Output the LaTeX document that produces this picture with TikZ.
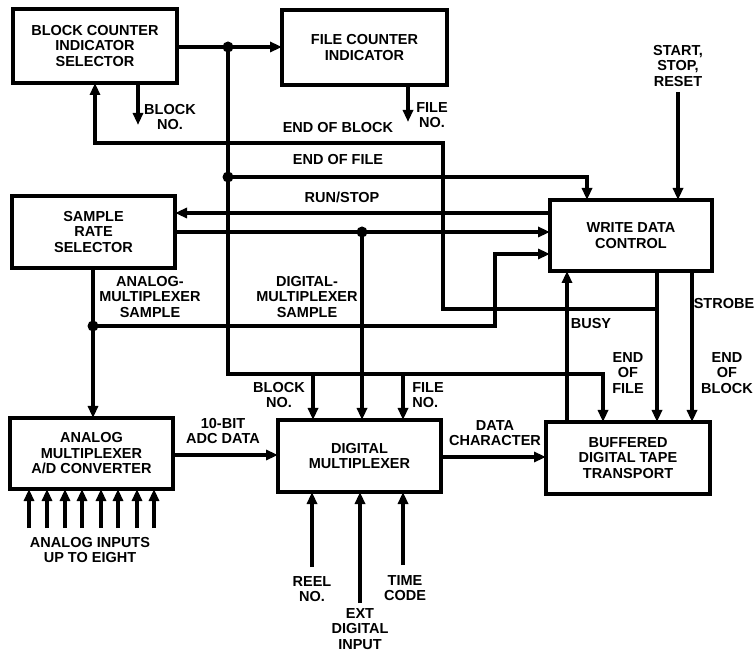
\documentclass[tikz,border=0pt]{standalone}
\usepackage{fontspec}
\setmainfont{Liberation Sans}
\usetikzlibrary{arrows.meta}
\begin{document}
\begin{tikzpicture}[x=1pt,y=-1pt,
  box/.style={draw, line width=3.5pt, inner sep=2pt, outer sep=0pt, align=center,
    font=\fontsize{14.5}{15.5}\selectfont\bfseries},
  lbl/.style={inner sep=0pt, align=center, font=\fontsize{14.5}{15.5}\selectfont\bfseries},
  wire/.style={line width=4pt},
  arr/.style={line width=4pt, -{Triangle[length=12pt,width=10pt]}},
  dot/.style={circle, fill, inner sep=0pt, minimum size=11pt}]
\useasboundingbox (0,0) rectangle (756,655);

% boxes
\node[box, minimum width=164pt, minimum height=74pt] (bcs) at (95,46) {BLOCK COUNTER\\INDICATOR\\SELECTOR};
\node[box, minimum width=165pt, minimum height=75pt] (fci) at (364.5,47.5) {FILE COUNTER\\INDICATOR};
\node[box, minimum width=162pt, minimum height=71pt] (wdc) at (631,235.5) {WRITE DATA\\CONTROL};
\node[box, minimum width=163pt, minimum height=72pt] (srs) at (93.5,232) {SAMPLE\\RATE\\SELECTOR};
\node[box, minimum width=163pt, minimum height=71pt] (amx) at (91.5,453.5) {ANALOG\\MULTIPLEXER\\A/D CONVERTER};
\node[box, minimum width=163pt, minimum height=72pt] (dmx) at (359.5,456) {DIGITAL\\MULTIPLEXER};
\node[box, minimum width=164pt, minimum height=72pt] (tape) at (628,458) {BUFFERED\\DIGITAL TAPE\\TRANSPORT};

% junction dots
\node[dot] (j1) at (228,47) {};
\node[dot] (j2) at (228,177) {};
\node[dot] (j4) at (362,232) {};
\node[dot] (j5) at (93,326) {};
\coordinate (j3) at (657,309);
\coordinate (b1) at (313,374);
\coordinate (b2) at (403,374);
\coordinate (s) at (678,92);

% connectors
\draw[arr] (bcs.east |- j1) -- (fci.west |- j1);
\draw[arr] (j1.center) -- (228,374) -- (603,374) -- (tape.north -| 603,0);
\draw[arr] (b1) -- (dmx.north -| b1);
\draw[arr] (b2) -- (dmx.north -| b2);
\draw[arr] (j2.center) -- (587,177) -- (wdc.north -| 587,0);
\draw[arr] (wdc.south -| j3) -- (tape.north -| j3);
\draw[arr] (j3) -- (443,309) -- (443,143) -- (95,143) -- (bcs.south -| 95,0);
\draw[arr] (bcs.south -| 138,0) -- (138,125);
\draw[arr] (fci.south -| 408,0) -- (408,122);
\draw[arr] (wdc.west |- 0,213) -- (srs.east |- 0,213);
\draw[arr] (srs.east |- 0,232) -- (wdc.west |- 0,232);
\draw[arr] (j4.center) -- (dmx.north -| j4);
\draw[arr] (srs.south -| j5) -- (amx.north -| j5);
\draw[arr] (j5.center) -- (495,326) -- (495,254) -- (wdc.west |- 0,254);
\draw[arr] (s) -- (wdc.north -| s);
\draw[arr] (tape.north -| 567,0) -- (wdc.south -| 567,0);
\draw[arr] (wdc.south -| 692,0) -- (tape.north -| 692,0);
\draw[arr] (amx.east |- 0,455) -- (dmx.west |- 0,455);
\draw[arr] (dmx.east |- 0,457) -- (tape.west |- 0,457);
\foreach \x in {29,47,65,82,101,118,137,154}
  \draw[arr] (\x,528) -- (amx.south -| \x,0);
\draw[arr] (312,567) -- (dmx.south -| 312,0);
\draw[arr] (360,603) -- (dmx.south -| 360,0);
\draw[arr] (403,565) -- (dmx.south -| 403,0);

% labels
\node[lbl] (lblockno) at (170,117) {BLOCK\\NO.};
\node[lbl] (lfileno) at (432,115) {FILE\\NO.};
\node[lbl] (leob) at (338,128) {END OF BLOCK};
\node[lbl] (leof) at (338,160) {END OF FILE};
\node[lbl] (lrun) at (342,197) {RUN/STOP};
\node[lbl] (lstart) at (678,66) {START,\\STOP,\\RESET};
\node[lbl] (lams) at (150,297) {ANALOG-\\MULTIPLEXER\\SAMPLE};
\node[lbl] (ldms) at (307,297) {DIGITAL-\\MULTIPLEXER\\SAMPLE};
\node[lbl] (lbusy) at (591,324) {BUSY};
\node[lbl] (lstrobe) at (724,304) {STROBE};
\node[lbl] (leof2) at (628,373) {END\\OF\\FILE};
\node[lbl] (leob2) at (727,373) {END\\OF\\BLOCK};
\node[lbl] (lblockno2) at (279,395) {BLOCK\\NO.};
\node[lbl, align=left] (lfileno2) at (428,395) {FILE\\NO.};
\node[lbl] (ladc) at (223,431) {10-BIT\\ADC DATA};
\node[lbl] (ldata) at (495,433) {DATA\\CHARACTER};
\node[lbl] (lin) at (90,550) {ANALOG INPUTS\\UP TO EIGHT};
\node[lbl] (lreel) at (312,589) {REEL\\NO.};
\node[lbl] (lext) at (360,629) {EXT\\DIGITAL\\INPUT};
\node[lbl] (ltime) at (405,588) {TIME\\CODE};
\end{tikzpicture}
\end{document}
